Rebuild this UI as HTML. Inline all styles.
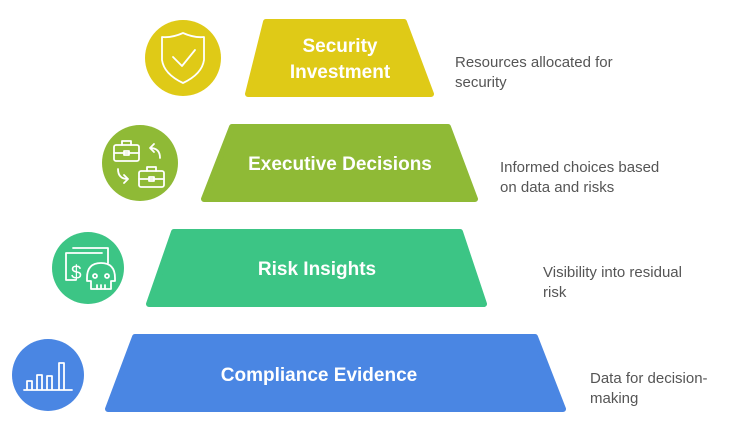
<!DOCTYPE html>
<html><head><meta charset="utf-8"><style>
body{margin:0;background:#fff;}
svg text{font-family:"Liberation Sans",sans-serif;}
</style></head><body>
<svg width="733" height="430" viewBox="0 0 733 430" xmlns="http://www.w3.org/2000/svg">
<g stroke-linejoin="round" stroke-width="6">
<polygon points="266,22 404,22 431,94 248,94" fill="#dfca17" stroke="#dfca17"/>
<polygon points="232,127 448,127 475,199 204,199" fill="#8fba36" stroke="#8fba36"/>
<polygon points="174,232 460,232 484,304 149,304" fill="#3cc585" stroke="#3cc585"/>
<polygon points="135,337 535,337 563,409 108,409" fill="#4a86e3" stroke="#4a86e3"/>
</g>
<g fill="#fff" font-weight="bold" font-size="19" text-anchor="middle">
<text x="340" y="52">Security</text>
<text x="340" y="78">Investment</text>
<text x="340" y="170">Executive Decisions</text>
<text x="317" y="275">Risk Insights</text>
<text x="319" y="381">Compliance Evidence</text>
</g>
<g fill="#555" font-size="15">
<text x="455" y="67">Resources allocated for</text>
<text x="455" y="87">security</text>
<text x="500" y="172">Informed choices based</text>
<text x="500" y="192">on data and risks</text>
<text x="543" y="277">Visibility into residual</text>
<text x="543" y="297">risk</text>
<text x="590" y="383">Data for decision-</text>
<text x="590" y="403">making</text>
</g>
<circle cx="183" cy="58" r="38" fill="#dfca17"/>
<circle cx="140" cy="163" r="38" fill="#8fba36"/>
<circle cx="88" cy="268" r="36" fill="#3cc585"/>
<circle cx="48" cy="375" r="36" fill="#4a86e3"/>
<g fill="none" stroke="#fff" stroke-width="1.8" stroke-linecap="round" stroke-linejoin="round">
<path d="M183,33 Q172,38 162,37 L162,60 Q164,74 183,83 Q202,74 204,60 L204,37 Q194,38 183,33Z"/>
<path d="M173,57 L182,66 L195,50"/>
<rect x="114" y="145" width="25" height="16" rx="2"/><path d="M122,145 v-4 h9 v4 M114,153 h25"/><rect x="124" y="151" width="5" height="4"/>
<rect x="139" y="171" width="25" height="16" rx="2"/><path d="M147,171 v-4 h9 v4 M139,179 h25"/><rect x="149" y="177" width="5" height="4"/>
<path d="M160,158 q0,-10 -10,-10 M154,144 l-4,4 4,4"/>
<path d="M118,169 q0,10 10,10 M124,175 l4,4 -4,4"/>
<path d="M73,248 h35 v15 M66,253 h36 M66,253 v27 h10"/>
<text x="71" y="279" fill="#fff" stroke="none" font-size="19">$</text>
<path d="M87,278 q0,-15 14,-15 q14,0 14,15 v3 h-4 v8 h-20 v-8 h-4z"/><circle cx="95" cy="276" r="2"/><circle cx="107" cy="276" r="2"/><path d="M97,289 v-4 M101,289 v-4 M105,289 v-4"/>
<path d="M24,390 h48 M27,390 v-9 h5 v9 M37,390 v-15 h5 v15 M47,390 v-14 h5 v14 M59,390 v-27 h5 v27"/>
</g>
</svg>
</body></html>
